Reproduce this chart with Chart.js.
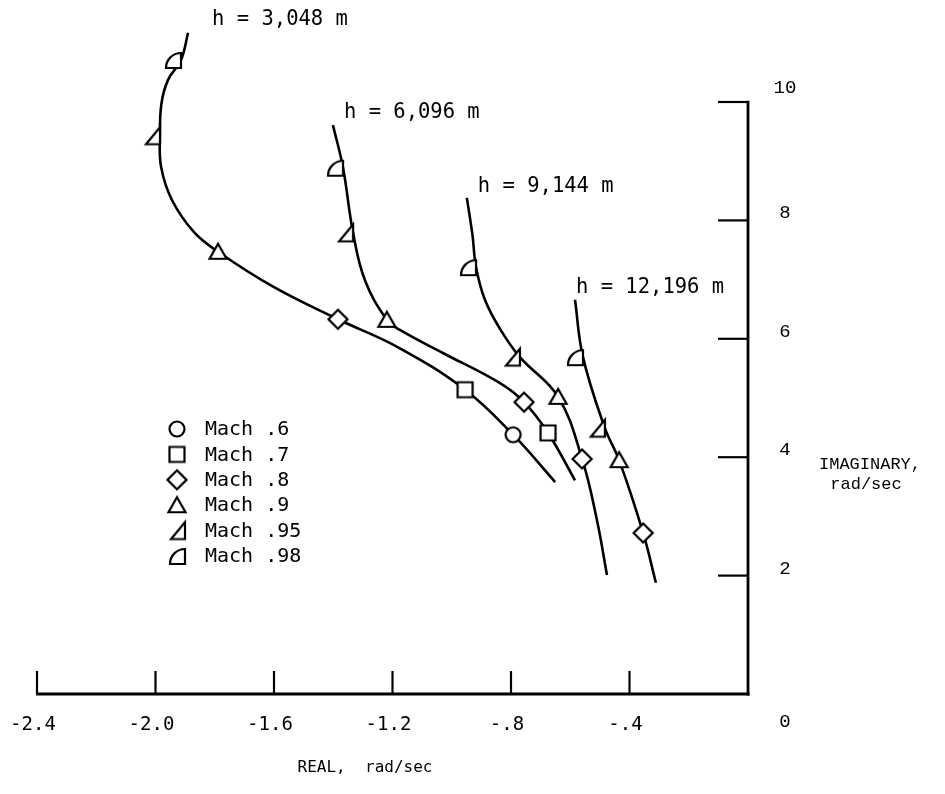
<!DOCTYPE html>
<html>
<head>
<meta charset="utf-8">
<script src="https://cdn.jsdelivr.net/npm/chart.js@4.4.1/dist/chart.umd.min.js"></script>
<style>
html,body{margin:0;padding:0;background:#fff;}
#wrap{width:945px;height:794px;position:relative;}
</style>
</head>
<body>
<div id="wrap"><canvas id="c" width="945" height="794"></canvas></div>
<script>
// ---------- data ----------
const altitudeLabels = ['h = 3,048 m', 'h = 6,096 m', 'h = 9,144 m', 'h = 12,196 m'];

const h3048Real = [-1.890, -1.914, -1.958, -1.980, -1.985, -1.981, -1.944, -1.870, -1.789, -1.603, -1.384, -1.175, -0.955, -0.793, -0.651];
const h3048Imag = [11.17, 10.71, 10.37, 9.97, 9.43, 8.90, 8.34, 7.80, 7.47, 6.88, 6.33, 5.84, 5.14, 4.38, 3.58];

const h6096Real = [-1.401, -1.367, -1.333, -1.293, -1.219, -1.175, -1.030, -0.837, -0.756, -0.675, -0.584];
const h6096Imag = [9.61, 8.89, 7.79, 6.99, 6.32, 6.15, 5.76, 5.25, 4.93, 4.41, 3.61];

const h9144Real = [-0.949, -0.930, -0.918, -0.888, -0.835, -0.770, -0.641, -0.560, -0.510, -0.476];
const h9144Imag = [8.38, 7.75, 7.21, 6.66, 6.15, 5.69, 5.02, 3.97, 2.94, 2.01];

const h12196Real = [-0.584, -0.557, -0.483, -0.435, -0.354, -0.311];
const h12196Imag = [6.66, 5.69, 4.49, 3.95, 2.72, 1.88];

const machLabels = ['Mach .6', 'Mach .7', 'Mach .8', 'Mach .9', 'Mach .95', 'Mach .98'];
const mach06Real = [-0.793];
const mach06Imag = [4.38];
const mach07Real = [-0.955, -0.675];
const mach07Imag = [5.14, 4.41];
const mach08Real = [-1.384, -0.756, -0.560, -0.354];
const mach08Imag = [6.33, 4.93, 3.97, 2.72];
const mach09Real = [-1.789, -1.219, -0.641, -0.435];
const mach09Imag = [7.47, 6.32, 5.02, 3.95];
const mach095Real = [-1.985, -1.333, -0.770, -0.483];
const mach095Imag = [9.43, 7.79, 5.69, 4.49];
const mach098Real = [-1.914, -1.367, -0.918, -0.557];
const mach098Imag = [10.71, 8.89, 7.21, 5.69];

const xTickValues = [-2.4, -2.0, -1.6, -1.2, -0.8, -0.4];
const xTickLabels = ['-2.4', '-2.0', '-1.6', '-1.2', '-.8', '-.4'];
const yTickValues = [0, 2, 4, 6, 8, 10];
const yTickLabels = ['0', '2', '4', '6', '8', '10'];
const xTitle = 'REAL,  rad/sec';
const yTitle = ['IMAGINARY,', 'rad/sec'];

// ---------- helpers ----------
function pairs(xs, ys) { return xs.map((x, i) => ({ x: x, y: ys[i] })); }

function markerCanvas(kind) {
  const c = document.createElement('canvas');
  const right = (kind === 'tri95' || kind === 'quarter');
  c.width = right ? 36 : 26;
  c.height = 26;
  const ctx = c.getContext('2d');
  ctx.lineWidth = 2.2;
  ctx.strokeStyle = '#000';
  ctx.fillStyle = '#fff';
  ctx.lineJoin = 'miter';
  ctx.beginPath();
  if (kind === 'circle') {
    ctx.arc(13, 13, 7.5, 0, Math.PI * 2);
  } else if (kind === 'square') {
    ctx.rect(5.5, 5.5, 15, 15);
  } else if (kind === 'diamond') {
    ctx.moveTo(13, 3.5); ctx.lineTo(22.5, 13); ctx.lineTo(13, 22.5); ctx.lineTo(3.5, 13); ctx.closePath();
  } else if (kind === 'triangle') {
    ctx.moveTo(13, 5); ctx.lineTo(21.5, 20); ctx.lineTo(4.5, 20); ctx.closePath();
  } else if (kind === 'tri95') {
    ctx.moveTo(18, 4.5); ctx.lineTo(18, 21.5); ctx.lineTo(4, 21.5); ctx.closePath();
  } else if (kind === 'quarter') {
    ctx.moveTo(18, 21); ctx.lineTo(18, 6); ctx.arc(18, 21, 15, -Math.PI / 2, Math.PI, true); ctx.closePath();
  }
  ctx.fill();
  ctx.stroke();
  c._shift = right ? 8 : 0;
  return c;
}

const markerKinds = ['circle', 'square', 'diamond', 'triangle', 'tri95', 'quarter'];
const markerImgs = markerKinds.map(markerCanvas);

const curveSets = [
  pairs(h3048Real, h3048Imag),
  pairs(h6096Real, h6096Imag),
  pairs(h9144Real, h9144Imag),
  pairs(h12196Real, h12196Imag)
];
const machSets = [
  pairs(mach06Real, mach06Imag),
  pairs(mach07Real, mach07Imag),
  pairs(mach08Real, mach08Imag),
  pairs(mach09Real, mach09Imag),
  pairs(mach095Real, mach095Imag),
  pairs(mach098Real, mach098Imag)
];

const datasets = [];
curveSets.forEach((d, i) => {
  datasets.push({
    label: altitudeLabels[i],
    data: d,
    showLine: true,
    borderColor: '#000',
    borderWidth: 2.6,
    tension: 0.4,
    pointRadius: 0,
    fill: false,
    order: 2
  });
});
machSets.forEach((d, i) => {
  datasets.push({
    label: machLabels[i],
    data: d,
    showLine: false,
    pointStyle: markerImgs[i],
    pointRadius: 8,
    order: 1
  });
});

// ---------- custom axes / labels plugin ----------
const paperAxes = {
  id: 'paperAxes',
  beforeDatasetsDraw(chart) {
    const { ctx, scales: { x, y } } = chart;
    const x0 = x.getPixelForValue(0);
    const y0 = y.getPixelForValue(0);
    ctx.save();
    ctx.strokeStyle = '#000';
    ctx.lineCap = 'butt';
    ctx.lineWidth = 3.2;
    ctx.beginPath();
    ctx.moveTo(x.getPixelForValue(-2.4) - 1, y0);
    ctx.lineTo(x0 + 1.5, y0);
    ctx.stroke();
    ctx.lineWidth = 2.8;
    ctx.beginPath();
    ctx.moveTo(x0, y0 + 1.5);
    ctx.lineTo(x0, y.getPixelForValue(10) - 1.2);
    ctx.stroke();
    ctx.lineWidth = 2.2;
    xTickValues.forEach(v => {
      const px = x.getPixelForValue(v);
      ctx.beginPath();
      ctx.moveTo(px, y0);
      ctx.lineTo(px, y0 - 23);
      ctx.stroke();
    });
    yTickValues.forEach(v => {
      if (v === 0) return;
      const py = y.getPixelForValue(v);
      ctx.beginPath();
      ctx.moveTo(x0, py);
      ctx.lineTo(x0 - 30, py);
      ctx.stroke();
    });
    ctx.restore();
  },
  afterDatasetsDraw(chart) {
    const { ctx, scales: { x, y }, chartArea } = chart;
    const x0 = x.getPixelForValue(0);
    const y0 = y.getPixelForValue(0);
    ctx.save();
    ctx.fillStyle = '#000';
    ctx.font = '19px "DejaVu Sans Mono"';
    ctx.textAlign = 'center';
    ctx.textBaseline = 'middle';
    xTickValues.forEach((v, i) => {
      ctx.fillText(xTickLabels[i], x.getPixelForValue(v) - 4, y0 + 31);
    });
    ctx.font = '16px "DejaVu Sans Mono"';
    ctx.fillText(xTitle, chartArea.left + 328, y0 + 74);
    ctx.font = '19px "Liberation Mono"';
    yTickValues.forEach((v, i) => {
      let dy = -7;
      if (v === 10) dy = -14;
      if (v === 0) dy = 28;
      ctx.fillText(yTickLabels[i], x0 + 37, y.getPixelForValue(v) + dy);
    });
    ctx.font = '17px "Liberation Mono"';
    ctx.fillText(yTitle[0], x0 + 122, y0 - 230);
    ctx.fillText(yTitle[1], x0 + 118, y0 - 210);
    const offs = [[24, -13], [11, -12], [11, -11], [1, -12]];
    ctx.font = '20.5px "DejaVu Sans Mono"';
    ctx.textAlign = 'left';
    curveSets.forEach((d, i) => {
      const p = d[0];
      ctx.fillText(altitudeLabels[i], x.getPixelForValue(p.x) + offs[i][0], y.getPixelForValue(p.y) + offs[i][1]);
    });
    ctx.font = '20px "DejaVu Sans Mono"';
    machLabels.forEach((lab, i) => {
      const cy = 429 + i * 25.4;
      const img = markerImgs[i];
      ctx.drawImage(img, 177 + img._shift - img.width / 2, cy - img.height / 2);
      ctx.fillText(lab, 205, cy + 1);
    });
    ctx.restore();
  }
};

new Chart(document.getElementById('c'), {
  type: 'scatter',
  data: { datasets: datasets },
  options: {
    responsive: false,
    animation: false,
    devicePixelRatio: 1,
    layout: { padding: { left: 37, right: 197, top: 13.2, bottom: 100 } },
    plugins: { legend: { display: false }, tooltip: { enabled: false } },
    scales: {
      x: { type: 'linear', min: -2.4, max: 0, display: false },
      y: { type: 'linear', min: 0, max: 11.5, display: false }
    }
  },
  plugins: [paperAxes]
});
</script>
</body>
</html>
